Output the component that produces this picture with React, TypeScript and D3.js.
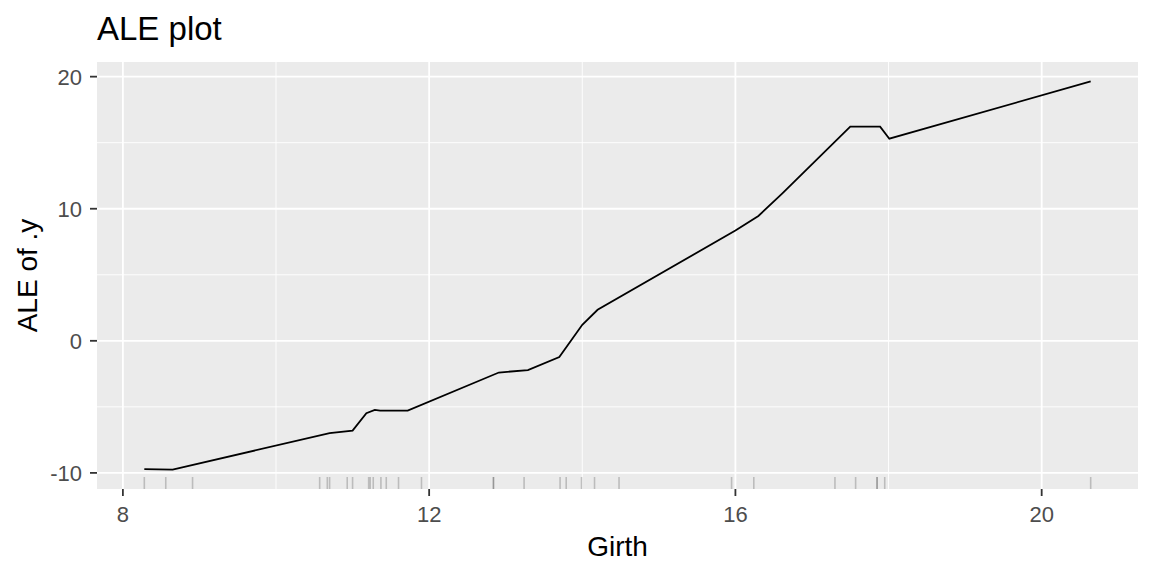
import React from "react";
import * as d3 from "d3";

// ALE curve grid (Girth) and ALE values
const aleGirth = [8.28, 8.65, 10.7, 11.0, 11.18, 11.29, 11.36, 11.72, 12.91, 13.29, 13.7, 14.0, 14.2, 16.0, 16.3, 16.61, 17.5, 17.89, 18.01, 20.64];
const aleValue = [-9.72, -9.75, -6.99, -6.8, -5.48, -5.23, -5.28, -5.28, -2.4, -2.22, -1.23, 1.21, 2.35, 8.35, 9.45, 11.14, 16.21, 16.21, 15.3, 19.64];

const rugGirth = [8.28, 8.56, 8.91, 10.57, 10.67, 10.7, 10.93, 11.0, 11.21, 11.23, 11.27, 11.37, 11.44, 11.6, 11.9, 12.84, 12.84, 13.24, 13.71, 13.79, 13.99, 14.16, 14.48, 15.95, 16.24, 17.3, 17.57, 17.85, 17.85, 17.95, 20.64];

const xTicks = [8, 12, 16, 20];
const xMinor = [10, 14, 18];
const yTicks = [-10, 0, 10, 20];
const yMinor = [-5, 5, 15];

const W = 1152, H = 576;
const FONT = "'Liberation Sans', Arial, sans-serif";

export default function App() {
  const left = 97, right = 1138, top = 62, bottom = 489;

  const xExt = d3.extent(rugGirth.concat(aleGirth)) as [number, number];
  const xPad = (xExt[1] - xExt[0]) * 0.05;
  const x = d3.scaleLinear().domain([xExt[0] - xPad, xExt[1] + xPad]).range([left, right]);

  const yExt = d3.extent(aleValue) as [number, number];
  const yPad = (yExt[1] - yExt[0]) * 0.05;
  const y = d3.scaleLinear().domain([yExt[0] - yPad, yExt[1] + yPad]).range([bottom, top]);

  const pts = aleGirth.map((g, i) => [g, aleValue[i]] as [number, number]);
  const line = d3.line<[number, number]>().x(d => x(d[0])).y(d => y(d[1]));

  return (
    <svg width={W} height={H} style={{ position: "absolute", left: 0, top: 0, display: "block" }}>
      <rect x={0} y={0} width={W} height={H} fill="#fff" />
      <rect x={left} y={top} width={right - left} height={bottom - top} fill="#EBEBEB" />
      {xMinor.map(v => (
        <line key={"xm" + v} x1={x(v)} x2={x(v)} y1={top} y2={bottom} stroke="#fff" strokeWidth={0.9} />
      ))}
      {yMinor.map(v => (
        <line key={"ym" + v} x1={left} x2={right} y1={y(v)} y2={y(v)} stroke="#fff" strokeWidth={0.9} />
      ))}
      {xTicks.map(v => (
        <line key={"xM" + v} x1={x(v)} x2={x(v)} y1={top} y2={bottom} stroke="#fff" strokeWidth={1.8} />
      ))}
      {yTicks.map(v => (
        <line key={"yM" + v} x1={left} x2={right} y1={y(v)} y2={y(v)} stroke="#fff" strokeWidth={1.8} />
      ))}
      {rugGirth.map((g, i) => (
        <line key={"r" + i} x1={x(g)} x2={x(g)} y1={bottom} y2={bottom - 12} stroke="#000" strokeOpacity={0.2} strokeWidth={1.6} />
      ))}
      <path d={line(pts) || ""} fill="none" stroke="#000" strokeWidth={1.8} />
      {xTicks.map(v => (
        <g key={"xt" + v}>
          <line x1={x(v)} x2={x(v)} y1={bottom} y2={bottom + 7} stroke="#333" strokeWidth={1.8} />
          <text x={x(v)} y={521.5} textAnchor="middle" fontFamily={FONT} fontSize={22} fill="#4D4D4D">{v}</text>
        </g>
      ))}
      {yTicks.map(v => (
        <g key={"yt" + v}>
          <line x1={left - 7} x2={left} y1={y(v)} y2={y(v)} stroke="#333" strokeWidth={1.8} />
          <text x={82} y={y(v)} dy="0.36em" textAnchor="end" fontFamily={FONT} fontSize={22} fill="#4D4D4D">{v}</text>
        </g>
      ))}
      <text x={(left + right) / 2} y={556} textAnchor="middle" fontFamily={FONT} fontSize={28} fill="#000">Girth</text>
      <text transform={`translate(37,${(top + bottom) / 2}) rotate(-90)`} textAnchor="middle" fontFamily={FONT} fontSize={28} fill="#000">ALE of .y</text>
      <text x={97} y={40} fontFamily={FONT} fontSize={33} fill="#000">ALE plot</text>
    </svg>
  );
}
